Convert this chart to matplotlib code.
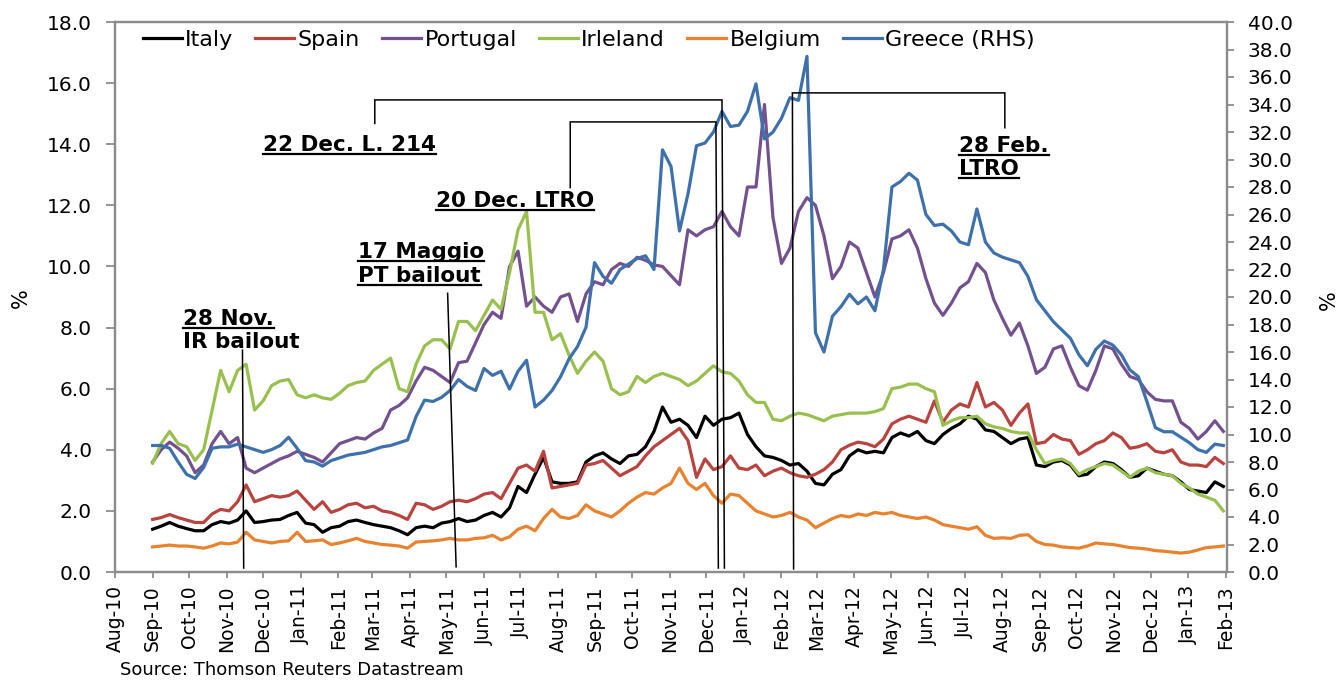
import numpy as np
import pandas as pd
import matplotlib
matplotlib.use("Agg")
import matplotlib.pyplot as plt
import matplotlib.dates as mdates
from matplotlib.lines import Line2D
from matplotlib.ticker import FormatStrFormatter

plt.rcParams['font.family'] = ['DejaVu Sans']

# ---------------- data (weekly readings, 10-year bond spreads vs Bund, %) ----------------
dates = pd.date_range('2010-09-01', periods=127, freq='7D')

italy = [1.40,1.50,1.62,1.50,1.42,1.35,1.35,1.55,1.65,1.60,
         1.70,2.00,1.62,1.65,1.70,1.72,1.85,1.95,1.60,1.55,
         1.30,1.45,1.50,1.65,1.70,1.62,1.55,1.50,1.45,1.35,
         1.22,1.45,1.50,1.45,1.60,1.65,1.75,1.65,1.70,1.85,
         1.95,1.80,2.10,2.80,2.60,3.20,3.75,2.95,2.90,2.90,
         2.95,3.60,3.80,3.90,3.70,3.55,3.80,3.85,4.10,4.60,
         5.40,4.90,5.00,4.80,4.40,5.10,4.80,5.00,5.05,5.20,
         4.50,4.10,3.80,3.75,3.65,3.50,3.55,3.30,2.90,2.85,
         3.20,3.35,3.80,4.00,3.90,3.95,3.90,4.40,4.55,4.45,
         4.60,4.30,4.20,4.50,4.70,4.85,5.10,5.00,4.65,4.60,
         4.40,4.20,4.35,4.40,3.50,3.45,3.60,3.65,3.50,3.15,
         3.20,3.45,3.60,3.55,3.35,3.10,3.15,3.40,3.30,3.20,
         3.15,2.95,2.70,2.65,2.60,2.95,2.80]

spain = [1.72,1.78,1.88,1.78,1.70,1.62,1.62,1.90,2.05,2.00,
         2.30,2.85,2.30,2.40,2.50,2.45,2.50,2.65,2.35,2.05,
         2.30,1.95,2.05,2.20,2.25,2.10,2.15,2.00,1.95,1.85,
         1.72,2.25,2.20,2.05,2.15,2.30,2.35,2.30,2.40,2.55,
         2.60,2.40,2.90,3.40,3.50,3.30,3.95,2.75,2.80,2.85,
         2.90,3.50,3.55,3.65,3.40,3.15,3.30,3.45,3.80,4.10,
         4.30,4.50,4.70,4.30,3.10,3.70,3.35,3.45,3.80,3.40,
         3.35,3.50,3.15,3.30,3.40,3.25,3.15,3.10,3.20,3.35,
         3.60,4.00,4.15,4.25,4.20,4.10,4.35,4.85,5.00,5.10,
         5.00,4.90,5.60,4.90,5.30,5.50,5.40,6.20,5.40,5.55,
         5.30,4.80,5.20,5.50,4.20,4.25,4.50,4.35,4.30,3.85,
         4.00,4.20,4.30,4.55,4.40,4.05,4.10,4.20,3.95,3.90,
         4.00,3.60,3.50,3.50,3.45,3.75,3.55]

portugal = [3.60,4.00,4.25,4.05,3.80,3.25,3.50,4.20,4.60,4.20,
            4.40,3.40,3.25,3.40,3.55,3.70,3.80,3.95,3.85,3.75,
            3.60,3.90,4.20,4.30,4.40,4.35,4.55,4.70,5.30,5.45,
            5.70,6.25,6.70,6.60,6.40,6.20,6.85,6.90,7.50,8.10,
            8.50,8.30,10.00,10.50,8.70,9.00,8.70,8.50,9.00,9.10,
            8.20,9.10,9.50,9.40,9.90,10.10,10.00,10.30,10.20,10.05,
            10.00,9.70,9.40,11.20,11.00,11.20,11.30,11.80,11.30,11.00,
            12.60,12.60,15.30,11.60,10.10,10.60,11.80,12.25,12.00,11.00,
            9.60,10.00,10.80,10.60,9.80,9.00,9.80,10.90,11.00,11.20,
            10.60,9.60,8.80,8.40,8.80,9.30,9.50,10.10,9.80,8.90,
            8.30,7.75,8.15,7.40,6.50,6.70,7.30,7.40,6.70,6.10,
            5.95,6.60,7.40,7.30,6.80,6.40,6.30,5.90,5.65,5.60,
            5.60,4.90,4.70,4.35,4.60,4.95,4.60]

ireland = [3.56,4.20,4.60,4.20,4.10,3.65,4.00,5.30,6.60,5.90,
           6.60,6.80,5.30,5.60,6.10,6.25,6.30,5.80,5.70,5.80,
           5.70,5.65,5.85,6.10,6.20,6.25,6.60,6.80,7.00,6.00,
           5.90,6.80,7.40,7.60,7.60,7.30,8.20,8.20,7.90,8.40,
           8.90,8.60,9.80,11.20,11.80,8.50,8.50,7.60,7.80,7.10,
           6.50,6.90,7.20,6.90,6.00,5.80,5.90,6.40,6.20,6.40,
           6.50,6.40,6.30,6.10,6.25,6.50,6.75,6.55,6.50,6.25,
           5.80,5.55,5.55,5.00,4.95,5.10,5.20,5.15,5.05,4.95,
           5.10,5.15,5.20,5.20,5.20,5.25,5.35,6.00,6.05,6.15,
           6.15,6.00,5.90,4.80,4.95,5.05,5.05,5.10,4.85,4.75,
           4.70,4.60,4.55,4.55,4.00,3.55,3.65,3.70,3.55,3.20,
           3.35,3.45,3.55,3.50,3.30,3.10,3.30,3.40,3.25,3.20,
           3.15,2.90,2.75,2.55,2.45,2.35,2.00]

belgium = [0.82,0.85,0.88,0.85,0.85,0.82,0.78,0.85,0.95,0.92,
           0.98,1.30,1.05,1.00,0.95,1.00,1.02,1.30,1.00,1.02,
           1.05,0.90,0.95,1.02,1.10,1.00,0.95,0.90,0.88,0.85,
           0.78,0.98,1.00,1.02,1.05,1.10,1.05,1.05,1.10,1.12,
           1.20,1.05,1.15,1.40,1.50,1.35,1.75,2.05,1.80,1.75,
           1.85,2.20,2.00,1.90,1.80,2.00,2.25,2.45,2.60,2.55,
           2.75,2.90,3.40,2.90,2.70,2.90,2.50,2.25,2.55,2.50,
           2.25,2.00,1.90,1.80,1.85,1.95,1.80,1.70,1.45,1.60,
           1.75,1.85,1.80,1.90,1.85,1.95,1.90,1.95,1.85,1.80,
           1.75,1.80,1.70,1.55,1.50,1.45,1.40,1.48,1.20,1.10,
           1.12,1.10,1.20,1.22,1.00,0.90,0.88,0.82,0.80,0.78,
           0.85,0.95,0.92,0.90,0.85,0.80,0.78,0.75,0.70,0.68,
           0.65,0.62,0.65,0.72,0.80,0.82,0.85]

greece = [9.20,9.20,9.00,8.00,7.10,6.80,7.60,9.00,9.10,9.10,
          9.30,9.10,8.90,8.70,8.90,9.20,9.80,9.00,8.10,8.00,
          7.70,8.10,8.30,8.50,8.60,8.70,8.90,9.10,9.20,9.40,
          9.60,11.30,12.50,12.40,12.70,13.20,14.00,13.50,13.20,14.80,
          14.30,14.60,13.30,14.60,15.40,12.00,12.50,13.20,14.20,15.50,
          16.40,17.80,22.50,21.50,21.00,22.00,22.40,22.80,23.00,22.00,
          30.70,29.50,24.80,27.50,31.00,31.20,32.00,33.50,32.40,32.50,
          33.50,35.50,31.50,32.00,33.00,34.50,34.30,37.50,17.40,16.00,
          18.60,19.30,20.20,19.50,20.00,19.00,22.00,28.00,28.40,29.00,
          28.50,26.00,25.20,25.30,24.80,24.00,23.80,26.40,24.00,23.20,
          22.90,22.70,22.50,21.50,19.80,19.00,18.20,17.60,17.00,15.80,
          15.00,16.20,16.80,16.50,15.80,14.70,14.20,12.40,10.50,10.20,
          10.20,9.80,9.40,8.90,8.70,9.30,9.20]

series_labels = ['Italy', 'Spain', 'Portugal', 'Irleland', 'Belgium', 'Greece (RHS)']
left_series = [italy, spain, portugal, ireland, belgium]
colors = ['#000000', '#b8433f', '#73518f', '#99c04f', '#e8822e', '#3e71ac']

# ---------------- figure ----------------
W, H = 1338, 680
fig = plt.figure(figsize=(W / 100, H / 100), dpi=100)
ax = fig.add_axes([115 / W, 1 - 572 / H, 1112 / W, 550 / H])
ax2 = ax.twinx()

handles = []
for vals, lab, col in zip(left_series, series_labels[:5], colors[:5]):
    h, = ax.plot(dates, vals, color=col, lw=2.3, label=lab, solid_joinstyle='round')
    handles.append(h)
hg, = ax2.plot(dates, greece, color=colors[5], lw=2.3, label=series_labels[5],
               solid_joinstyle='round')
handles.append(hg)

ax.set_xlim(mdates.date2num(pd.Timestamp('2010-08-01')),
            mdates.date2num(pd.Timestamp('2013-02-02')))
ax.set_ylim(0, 18)
ax2.set_ylim(0, 40)
ax.set_yticks(np.arange(0, 18.01, 2))
ax2.set_yticks(np.arange(0, 40.01, 2))
ax.yaxis.set_major_formatter(FormatStrFormatter('%.1f'))
ax2.yaxis.set_major_formatter(FormatStrFormatter('%.1f'))
ax.xaxis.set_major_locator(mdates.MonthLocator())
ax.xaxis.set_major_formatter(mdates.DateFormatter('%b-%y'))

gray = '#8c8c8c'
for a in (ax, ax2):
    for s in a.spines.values():
        s.set_color(gray)
        s.set_linewidth(1.6)
ax.tick_params(axis='y', direction='out', length=6.5, width=1.3, color=gray,
               labelsize=14.5, pad=10)
ax2.tick_params(axis='y', direction='out', length=5, width=1.3, color=gray,
                labelsize=14.5, pad=10)
ax.tick_params(axis='x', direction='out', length=4.5, width=1.3, color=gray,
               labelsize=13.5, pad=5, labelrotation=90)

# axis unit labels and source
fig.text(21 / W, 1 - 298 / H, '%', rotation=90, fontsize=15, ha='center', va='center')
fig.text(1329 / W, 1 - 300 / H, '%', rotation=90, fontsize=15, ha='center', va='center')
fig.text(120 / W, 1 - 670 / H, 'Source: Thomson Reuters Datastream', fontsize=13,
         ha='left', va='center')

# legend
ax2.legend(handles, series_labels, loc='upper left', bbox_to_anchor=(0.025, 0.985),
           ncol=6, frameon=False, fontsize=16, handlelength=1.75, handletextpad=0.15,
           columnspacing=1.0, borderaxespad=0, borderpad=0)

# ---------------- event annotations ----------------
def d(s):
    return mdates.date2num(pd.Timestamp(s))

connectors = [
    [(d('2010-11-14'), 7.26), (d('2010-11-15'), 0.13)],
    [(d('2011-05-02'), 9.12), (d('2011-05-09'), 0.17)],
    [(d('2011-08-11'), 12.58), (d('2011-08-11'), 14.73), (d('2011-12-09'), 14.73),
     (d('2011-12-11'), 0.13)],
    [(d('2011-03-03'), 14.68), (d('2011-03-03'), 15.45), (d('2011-12-14'), 15.45),
     (d('2011-12-16'), 0.13)],
    [(d('2012-08-03'), 14.54), (d('2012-08-03'), 15.68), (d('2012-02-10'), 15.68),
     (d('2012-02-11'), 0.10)],
]
for pts in connectors:
    xs, ys = zip(*pts)
    ax2.plot(xs, ys, color='black', lw=1.1, transform=ax.transData, zorder=5,
             solid_joinstyle='miter')

# (text, left px, baseline px, underline)
labels = [
    ('22 Dec. L. 214', 263, 151, True),
    ('20 Dec. LTRO', 436, 207, True),
    ('17 Maggio', 358, 258, True),
    ('PT bailout', 358, 282, True),
    ('28 Nov.', 183, 325, True),
    ('IR bailout', 183, 348, False),
    ('28 Feb.', 959, 152, True),
    ('LTRO', 959, 175, True),
]
texts = []
for txt, xp, yp, ul in labels:
    t = fig.text(xp / W, 1 - yp / H, txt, fontsize=15.5, fontweight='bold',
                 ha='left', va='baseline', zorder=10)
    texts.append((t, yp, ul))

fig.canvas.draw()
r = fig.canvas.get_renderer()
for t, yp, ul in texts:
    if not ul:
        continue
    bb = t.get_window_extent(r)
    yu = 1 - (yp + 3) / H
    fig.add_artist(Line2D([bb.x0 / W, bb.x1 / W], [yu, yu], color='black', lw=1.6,
                          transform=fig.transFigure))

fig.savefig('out.png', dpi=100)
